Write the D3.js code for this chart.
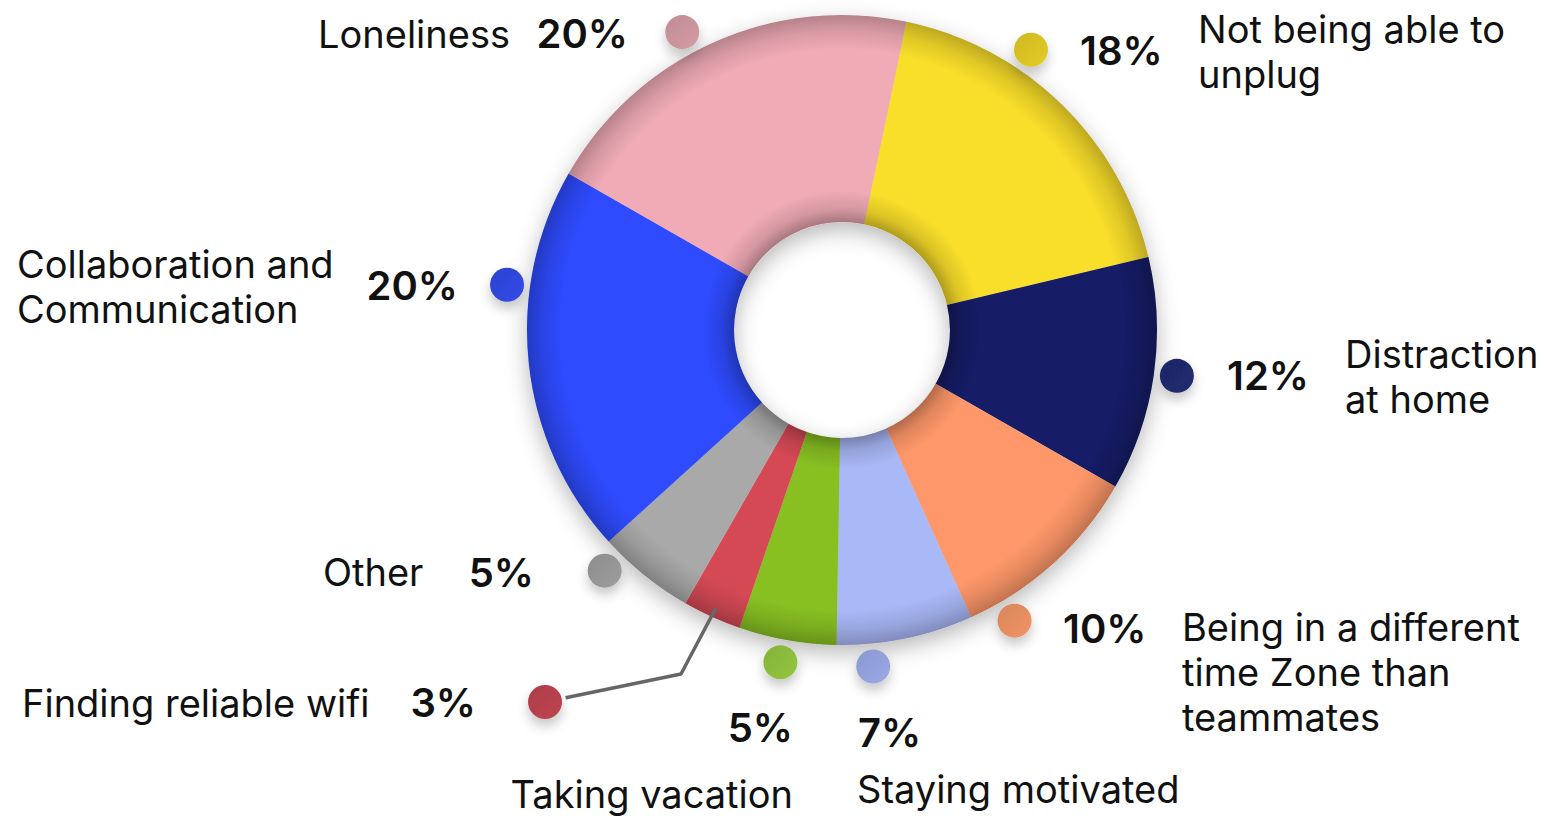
<!DOCTYPE html>
<html>
<head>
<meta charset="utf-8">
<script src="https://cdn.jsdelivr.net/npm/d3@7/dist/d3.min.js"></script>
<style>
  html, body { margin: 0; padding: 0; background: #ffffff; }
  svg { display: block; }
  text { font-family: Inter, "Noto Sans", sans-serif; fill: #111111; }
</style>
</head>
<body>
<svg id="chart" width="1544" height="818"></svg>
<script>
// Remote-work struggles, share of respondents (%), clockwise from the top
const categories = [
  "Not being able to\nunplug",
  "Distraction\nat home",
  "Being in a different\ntime Zone than\nteammates",
  "Staying motivated",
  "Taking vacation",
  "Finding reliable wifi",
  "Other",
  "Collaboration and\nCommunication",
  "Loneliness"
];
const values = [18, 12, 10, 7, 5, 3, 5, 20, 20];
const sliceColors = ["#f9de2b", "#121c66", "#fe9769", "#a9b8f7", "#88c022", "#d54a55", "#a9a9a9", "#2e4bff", "#f0abb6"];
const dotColors   = ["#d6c024", "#1f2869", "#e38b60", "#909fd8", "#8aba3c", "#b3404b", "#939393", "#2f45d9", "#c8929b"];

// Label placement: marker angle (deg) / radius, label & percent anchors
const layout = [
  { dot: 34.0,  px: 1080, py: 65,  pa: "start", lx: 1198, ly: 43,  la: "start" },
  { dot: 97.8,  px: 1227, py: 390, pa: "start", lx: 1345, ly: 368, la: "start" },
  { dot: 149.3, px: 1063, py: 643, pa: "start", lx: 1182, ly: 641, la: "start" },
  { dot: 174.7, px: 858,  py: 747, pa: "start", lx: 857,  ly: 803, la: "start" },
  { dot: 190.5, px: 793,  py: 742, pa: "end",   lx: 793,  ly: 808, la: "end" },
  { dot: 218.6, r: 476, px: 476, py: 717, pa: "end", lx: 22, ly: 717, la: "start", elbow: [-161, 344] },
  { dot: 224.6, px: 534,  py: 587, pa: "end",   lx: 323,  ly: 586, la: "start" },
  { dot: 277.7, px: 458,  py: 300, pa: "end",   lx: 17,   ly: 278, la: "start" },
  { dot: 331.8, px: 628,  py: 48,  pa: "end",   lx: 318,  ly: 48,  la: "start" }
];

const width = 1544, height = 818;
const cx = 842, cy = 330;
const outerR = 315, innerR = 108, dotR = 17, dotRing = 338;
const startDeg = 11.8;
const rad = d => d * Math.PI / 180;

const svg = d3.select("#chart");
const defs = svg.append("defs");

// Soft drop shadow under the ring and the markers
const ds = defs.append("filter").attr("id", "ringShadow")
  .attr("x", "-20%").attr("y", "-20%").attr("width", "140%").attr("height", "140%");
ds.append("feDropShadow").attr("dx", 0).attr("dy", 8).attr("stdDeviation", 11)
  .attr("flood-color", "#000").attr("flood-opacity", 0.28);

const dsDot = defs.append("filter").attr("id", "dotShadow")
  .attr("x", "-100%").attr("y", "-100%").attr("width", "300%").attr("height", "300%");
dsDot.append("feDropShadow").attr("dx", 0).attr("dy", 7).attr("stdDeviation", 6)
  .attr("flood-color", "#000").attr("flood-opacity", 0.22);

// Rim shading: darkens toward the inner and outer edges of the ring
const rim = defs.append("radialGradient").attr("id", "rimShade")
  .attr("gradientUnits", "userSpaceOnUse")
  .attr("cx", 0).attr("cy", 0).attr("r", outerR);
const k = innerR / outerR;
[[k, 0.3], [k + 0.04, 0.12], [k + 0.1, 0], [0.89, 0], [0.95, 0.1], [1, 0.24]]
  .forEach(([o, a]) => rim.append("stop").attr("offset", o).attr("stop-color", "#000").attr("stop-opacity", a));

// Marker gradient (slightly darker top-left)
dotColors.forEach((c, i) => {
  const gr = defs.append("linearGradient").attr("id", "dotGrad" + i)
    .attr("x1", "0").attr("y1", "0").attr("x2", "1").attr("y2", "1");
  gr.append("stop").attr("offset", 0).attr("stop-color", d3.color(c).darker(0.12));
  gr.append("stop").attr("offset", 1).attr("stop-color", d3.color(c).brighter(0.18));
});

const pie = d3.pie().sort(null).value(d => d)
  .startAngle(rad(startDeg)).endAngle(rad(startDeg) + 2 * Math.PI);
const arcs = pie(values);
const arc = d3.arc().innerRadius(innerR).outerRadius(outerR);

const g = svg.append("g").attr("transform", `translate(${cx},${cy})`);

// Slices
const ring = g.append("g").attr("filter", "url(#ringShadow)");
ring.selectAll("path.slice").data(arcs).join("path")
  .attr("class", "slice")
  .attr("d", arc)
  .attr("fill", (d, i) => sliceColors[i]);

// Shading overlay
g.append("path")
  .attr("d", d3.arc().innerRadius(innerR).outerRadius(outerR).startAngle(0).endAngle(2 * Math.PI)())
  .attr("fill", "url(#rimShade)")
  .attr("pointer-events", "none");

const dotPos = i => d3.pointRadial(rad(layout[i].dot), layout[i].r || dotRing);

// Leader line for the thin slice
arcs.forEach((d, i) => {
  const L = layout[i];
  if (!L.elbow) return;
  const mid = (d.startAngle + d.endAngle) / 2;
  const tip = d3.pointRadial(mid, outerR - 10);
  const p = dotPos(i);
  const ang = Math.atan2(L.elbow[1] - p[1], L.elbow[0] - p[0]);
  const start = [p[0] + Math.cos(ang) * (dotR + 4), p[1] + Math.sin(ang) * (dotR + 4)];
  g.append("path")
    .attr("d", d3.line()([start, L.elbow, tip]))
    .attr("fill", "none").attr("stroke", "#666666").attr("stroke-width", 3.5)
    .attr("stroke-linejoin", "round");
});

// Markers
g.selectAll("circle.dot").data(arcs).join("circle")
  .attr("class", "dot")
  .attr("cx", (d, i) => dotPos(i)[0])
  .attr("cy", (d, i) => dotPos(i)[1])
  .attr("r", dotR)
  .attr("fill", (d, i) => `url(#dotGrad${i})`)
  .attr("filter", "url(#dotShadow)");

// Percent labels
svg.selectAll("text.pct").data(arcs).join("text")
  .attr("class", "pct")
  .attr("x", (d, i) => layout[i].px)
  .attr("y", (d, i) => layout[i].py)
  .attr("text-anchor", (d, i) => layout[i].pa)
  .style("font-size", "40px").style("font-weight", 600)
  .text(d => d3.format(".0f")(d.data) + "%");

// Category labels
const lineH = 45;
const labels = svg.selectAll("text.cat").data(categories).join("text")
  .attr("class", "cat")
  .attr("x", (d, i) => layout[i].lx)
  .attr("y", (d, i) => layout[i].ly)
  .attr("text-anchor", (d, i) => layout[i].la)
  .style("font-size", "38px").style("font-weight", 400);
labels.each(function (d, i) {
  const t = d3.select(this);
  d.split("\n").forEach((line, j) => {
    t.append("tspan").attr("x", layout[i].lx).attr("dy", j === 0 ? 0 : lineH).text(line);
  });
});
</script>
</body>
</html>
